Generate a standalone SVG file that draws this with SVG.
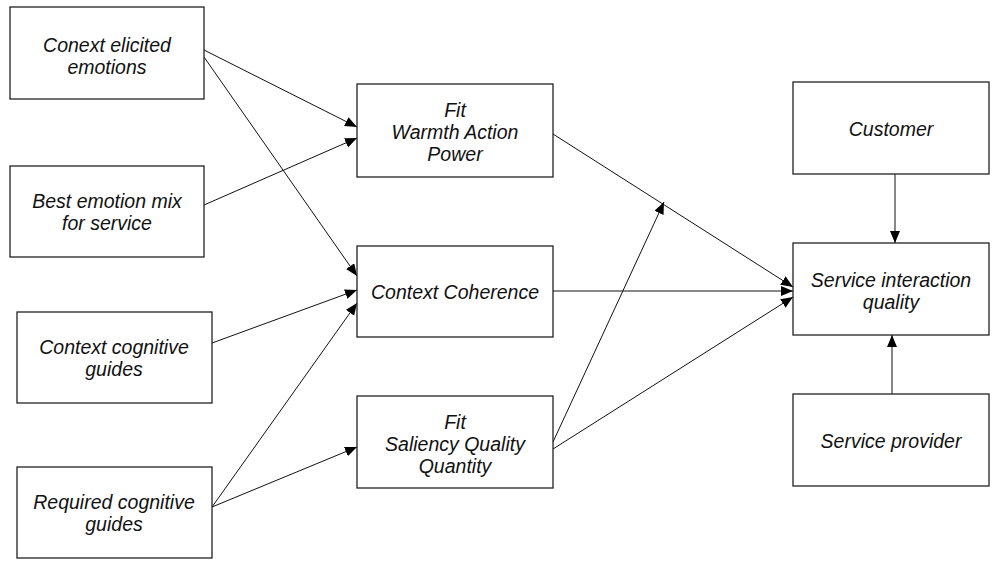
<svg xmlns="http://www.w3.org/2000/svg" width="992" height="562" viewBox="0 0 992 562">
<style>
.box{fill:#fff;stroke:#222;stroke-width:1.3}
.t{font-family:"Liberation Sans",Arial,sans-serif;font-style:italic;font-size:19.5px;fill:#111;text-anchor:middle}
.c{fill:none;stroke:#111;stroke-width:1}
</style>
<defs>
<marker id="ah" markerUnits="userSpaceOnUse" markerWidth="13" markerHeight="11" refX="12" refY="5" orient="auto">
<path d="M0,0 L12,5 L0,10 z" fill="#000"/>
</marker>
</defs>
<rect width="992" height="562" fill="#fff"/>
<g id="connectors">
<line class="c" x1="204" y1="50" x2="357" y2="127" marker-end="url(#ah)"/>
<line class="c" x1="204" y1="57" x2="357" y2="276" marker-end="url(#ah)"/>
<line class="c" x1="204" y1="205" x2="357" y2="138" marker-end="url(#ah)"/>
<line class="c" x1="212" y1="343" x2="357" y2="290" marker-end="url(#ah)"/>
<line class="c" x1="212" y1="507" x2="357" y2="303" marker-end="url(#ah)"/>
<line class="c" x1="212" y1="507" x2="357" y2="447" marker-end="url(#ah)"/>
<line class="c" x1="553" y1="134" x2="793" y2="287" marker-end="url(#ah)"/>
<line class="c" x1="553" y1="291" x2="793" y2="291" marker-end="url(#ah)"/>
<line class="c" x1="553" y1="442" x2="664" y2="202" marker-end="url(#ah)"/>
<line class="c" x1="553" y1="449" x2="793" y2="297" marker-end="url(#ah)"/>
<line class="c" x1="895" y1="174" x2="895" y2="243" marker-end="url(#ah)"/>
<line class="c" x1="892" y1="394" x2="892" y2="335" marker-end="url(#ah)"/>
</g>
<g id="n1"><rect class="box" x="10" y="7" width="194" height="92"/>
<text class="t" x="107" y="52">Conext elicited</text><text class="t" x="107" y="74">emotions</text></g>
<g id="n2"><rect class="box" x="10" y="166" width="194" height="91"/>
<text class="t" x="107" y="208">Best emotion mix</text><text class="t" x="107" y="230">for service</text></g>
<g id="n3"><rect class="box" x="17" y="312" width="195" height="91"/>
<text class="t" x="114" y="354">Context cognitive</text><text class="t" x="114" y="376">guides</text></g>
<g id="n4"><rect class="box" x="17" y="467" width="195" height="91"/>
<text class="t" x="114" y="509">Required cognitive</text><text class="t" x="114" y="531">guides</text></g>
<g id="n5"><rect class="box" x="357" y="84" width="196" height="93"/>
<text class="t" x="455" y="117">Fit</text><text class="t" x="455" y="139">Warmth Action</text><text class="t" x="455" y="161">Power</text></g>
<g id="n6"><rect class="box" x="357" y="246" width="196" height="91"/>
<text class="t" x="455" y="299">Context Coherence</text></g>
<g id="n7"><rect class="box" x="357" y="396" width="196" height="92"/>
<text class="t" x="455" y="429">Fit</text><text class="t" x="455" y="451">Saliency Quality</text><text class="t" x="455" y="473">Quantity</text></g>
<g id="n8"><rect class="box" x="793" y="82" width="196" height="92"/>
<text class="t" x="891" y="136">Customer</text></g>
<g id="n9"><rect class="box" x="793" y="243" width="196" height="92"/>
<text class="t" x="891" y="287">Service interaction</text><text class="t" x="891" y="309">quality</text></g>
<g id="n10"><rect class="box" x="793" y="394" width="196" height="92"/>
<text class="t" x="891" y="448">Service provider</text></g>
</svg>
